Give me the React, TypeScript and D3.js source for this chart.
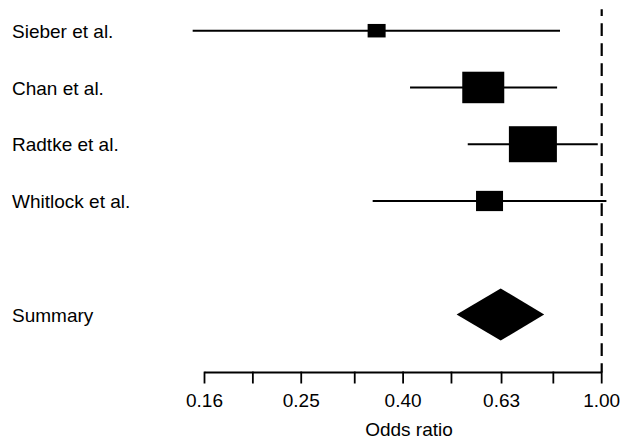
import React from "react";
import * as d3 from "d3";

// ---- data ----
const studies = ["Sieber et al.", "Chan et al.", "Radtke et al.", "Whitlock et al."];
const estimate = [0.354, 0.579, 0.728, 0.596];
const lower = [0.1515, 0.413, 0.539, 0.3476];
const upper = [0.825, 0.814, 0.982, 1.022];
const boxWeight = [0.375, 0.875, 1.0, 0.5625];
const summaryLabel = "Summary";
const summaryEst = 0.6275;
const summaryLo = 0.512;
const summaryHi = 0.767;
const tickValues = [0.16, 0.2, 0.25, 0.32, 0.4, 0.5, 0.63, 0.8, 1.0];
const tickLabels = ["0.16", "", "0.25", "", "0.40", "", "0.63", "", "1.00"];
const xLabel = "Odds ratio";

const W = 621;
const H = 442;
const FONT = "'Liberation Sans', Arial, Helvetica, sans-serif";
const FS = 19;

export default function App() {
  const x = d3.scaleLog().domain([0.16, 1]).range([204.5, 601.7]);
  const y = d3.scaleLinear().domain([0, 5]).range([30.7, 314.5]);
  const axisY = 372.5;
  const maxBoxH = 36;
  const maxBoxW = 48;

  const diamond = d3.line<[number, number]>()([
    [x(summaryLo), y(5)],
    [x(summaryEst), y(5) - 26],
    [x(summaryHi), y(5)],
    [x(summaryEst), y(5) + 26],
  ]) + "Z";

  return (
    <svg
      width={W}
      height={H}
      style={{ position: "absolute", left: 0, top: 0, background: "#fff" }}
      fontFamily={FONT}
    >
      <rect x={0} y={0} width={W} height={H} fill="#fff" />
      {/* null line */}
      <line
        x1={x(1)}
        x2={x(1)}
        y1={9.3}
        y2={axisY}
        stroke="#000"
        strokeWidth={2.2}
        strokeDasharray="12.7 7.3"
        strokeDashoffset={6}
      />
      {studies.map((s, i) => {
        const bh = maxBoxH * boxWeight[i];
        const bw = maxBoxW * boxWeight[i];
        return (
          <g key={s}>
            <text x={12} y={y(i) + 7.2} fontSize={FS} fill="#000">
              {s}
            </text>
            <line
              x1={x(lower[i])}
              x2={x(upper[i])}
              y1={y(i)}
              y2={y(i)}
              stroke="#000"
              strokeWidth={2}
            />
            <rect
              x={x(estimate[i]) - bw / 2}
              y={y(i) - bh / 2}
              width={bw}
              height={bh}
              fill="#000"
            />
          </g>
        );
      })}
      <text x={12} y={y(5) + 7.2} fontSize={FS} fill="#000">
        {summaryLabel}
      </text>
      <path d={diamond} fill="#000" />
      {/* axis */}
      <line x1={x(0.16)} x2={x(1)} y1={axisY} y2={axisY} stroke="#000" strokeWidth={1.8} />
      {tickValues.map((t, i) => (
        <g key={t}>
          <line
            x1={x(t)}
            x2={x(t)}
            y1={axisY - 0.9}
            y2={axisY + 11}
            stroke="#000"
            strokeWidth={1.8}
          />
          {tickLabels[i] && (
            <text x={x(t)} y={406.5} fontSize={FS} textAnchor="middle" fill="#000">
              {tickLabels[i]}
            </text>
          )}
        </g>
      ))}
      <text x={409} y={435.5} fontSize={FS} textAnchor="middle" fill="#000">
        {xLabel}
      </text>
    </svg>
  );
}
